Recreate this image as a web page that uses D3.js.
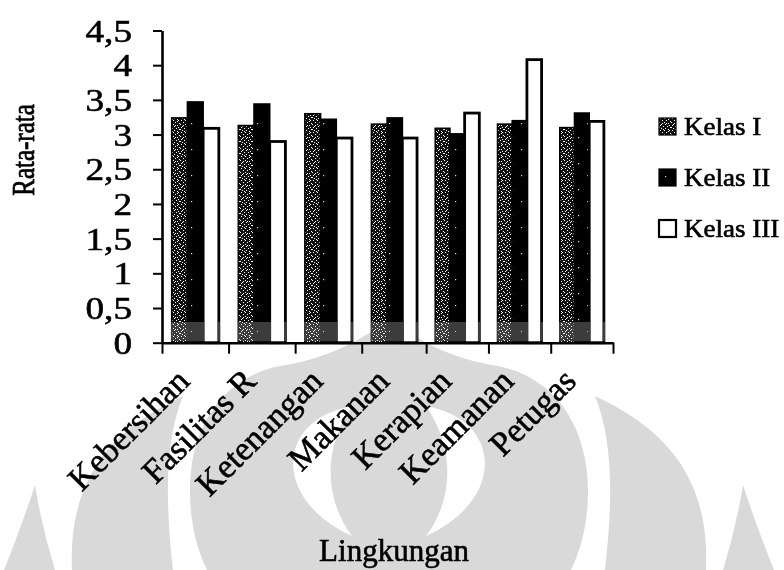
<!DOCTYPE html>
<html>
<head>
<meta charset="utf-8">
<script src="https://cdn.jsdelivr.net/npm/d3@7"></script>
<style>
  html, body { margin: 0; padding: 0; background: #fff; }
  svg { display: block; }
  text { font-family: "Liberation Serif", "Times New Roman", serif; fill: #000; stroke: #000; stroke-width: 0.6px; }
</style>
</head>
<body>
<svg id="chart" width="784" height="570"></svg>
<script>
// ---- data ----
const categories = ["Kebersihan", "Fasilitas R", "Ketenangan", "Makanan", "Kerapian", "Keamanan", "Petugas"];
const seriesNames = ["Kelas I", "Kelas II", "Kelas III"];
const kelas1 = [3.24, 3.13, 3.30, 3.15, 3.09, 3.15, 3.10];
const kelas2 = [3.47, 3.44, 3.22, 3.24, 3.01, 3.20, 3.31];
const kelas3 = [3.09, 2.90, 2.95, 2.95, 3.31, 4.08, 3.19];
const yTickValues = [0, 0.5, 1, 1.5, 2, 2.5, 3, 3.5, 4, 4.5];
const yTickLabels = ["0", "0,5", "1", "1,5", "2", "2,5", "3", "3,5", "4", "4,5"];
const xTitle = "Lingkungan";
const yTitle = "Rata-rata";

const seriesValues = [kelas1, kelas2, kelas3];

const svg = d3.select("#chart");

// ---- fill patterns ----
const defs = svg.append("defs");
const stip = defs.append("pattern").attr("id", "stipple")
  .attr("patternUnits", "userSpaceOnUse").attr("width", 12).attr("height", 12);
stip.append("rect").attr("width", 12).attr("height", 12).attr("fill", "#111");
[[1,0],[5,0],[9,1],[3,2],[7,2],[11,3],[0,4],[5,4],[9,5],[2,6],[6,6],[10,7],[4,8],[8,8],
 [0,9],[11,9],[2,10],[6,10],[9,11],[4,11],[7,5],[1,7],[10,0],[3,5]]
  .forEach(([px, py]) => stip.append("rect").attr("x", px).attr("y", py)
    .attr("width", 1).attr("height", 1).attr("fill", "#fff"));

const solid = defs.append("pattern").attr("id", "solidDots")
  .attr("patternUnits", "userSpaceOnUse").attr("width", 22).attr("height", 26);
solid.append("rect").attr("width", 22).attr("height", 26).attr("fill", "#000");
[[6,7],[15,19]].forEach(([px, py]) => solid.append("rect").attr("x", px).attr("y", py)
  .attr("width", 1.2).attr("height", 1.2).attr("fill", "#ddd"));

const fills = ["url(#stipple)", "url(#solidDots)", "#fff"];

// ---- background emblem ----
const mark = svg.append("g").attr("fill", "#d9d9d9");
[
  "M35,485 Q22,525 4,570 L55,570 Q42,528 35,485Z",
  "M743,485 Q756,525 774,570 L723,570 Q736,528 743,485Z",
  "M183,396 C110,430 68,480 72,570 L173,570 C165,500 165,440 183,396Z",
  "M595,396 C668,430 710,480 706,570 L605,570 C613,500 613,440 595,396Z",
  "M390,319 C355,345 320,360 280,366 C220,378 190,430 190,490 C190,530 200,555 207,570 L571,570 C578,555 588,530 588,490 C588,430 558,378 498,366 C458,360 423,345 390,319Z"
].forEach(d => mark.append("path").attr("d", d));
[
  "M352,406 C275,420 272,500 352,536 C325,500 322,450 352,406Z",
  "M426,406 C503,420 506,500 426,536 C453,500 456,450 426,406Z"
].forEach(d => mark.append("path").attr("d", d).attr("fill", "#fff"));

// ---- scales ----
const x = d3.scaleLinear().domain([0, 3.5, categories.length]).range([162, 395, 613]);
const y = d3.scaleLinear().domain([0, 4.5]).range([342.7, 30.5]);
const inner = d3.scaleBand().domain(seriesNames).range([0, 1]).paddingInner(0).paddingOuter(0.62);

// ---- bars ----
const bars = [];
categories.forEach((c, i) => {
  seriesNames.forEach((s, j) => bars.push({ i, j, s, v: seriesValues[j][i] }));
});
svg.append("g").selectAll("rect").data(bars).join("rect")
  .attr("x", d => x(d.i + inner(d.s)))
  .attr("width", d => x(d.i + inner(d.s) + inner.bandwidth()) - x(d.i + inner(d.s)))
  .attr("y", d => y(d.v))
  .attr("height", d => y(0) - y(d.v))
  .attr("fill", d => fills[d.j])
  .attr("stroke", "#000")
  .attr("stroke-width", d => d.j === 2 ? 2.8 : 1.6);

// light band across the lower part of the bars
svg.append("rect")
  .attr("x", x(0)).attr("width", x(categories.length) - x(0))
  .attr("y", 322).attr("height", y(0) - 1.5 - 322)
  .attr("fill", "#3c3c3c")
  .style("mix-blend-mode", "lighten");

// ---- y axis ----
const yAxis = svg.append("g").attr("transform", `translate(${x(0)},0)`)
  .call(d3.axisLeft(y).tickValues(yTickValues)
    .tickFormat((d, k) => yTickLabels[k]).tickSizeInner(9).tickSizeOuter(0).tickPadding(0));
yAxis.select(".domain").attr("stroke-width", 2.6);
yAxis.selectAll(".tick line").attr("stroke-width", 2);
yAxis.selectAll(".tick text")
  .attr("font-size", 31).attr("font-family", null)
  .attr("x", -30 / 1.2).attr("dy", "0.34em")
  .attr("transform", "scale(1.2,1)");

// ---- x axis ----
const xAxis = svg.append("g").attr("transform", `translate(0,${y(0)})`)
  .call(d3.axisBottom(x).tickValues(d3.range(categories.length + 1))
    .tickFormat("").tickSizeInner(11).tickSizeOuter(0));
xAxis.select(".domain").attr("stroke-width", 2.6);
xAxis.selectAll(".tick line").attr("stroke-width", 2);

svg.append("g").selectAll("text").data(categories).join("text")
  .attr("transform", (d, i) => `translate(${x(i + 0.5) - 4},383) rotate(-45)`)
  .attr("text-anchor", "end")
  .attr("font-size", 34)
  .text(d => d);

// ---- titles ----
svg.append("text")
  .attr("x", 394).attr("y", 561)
  .attr("text-anchor", "middle")
  .attr("font-size", 31)
  .text(xTitle);

svg.append("text")
  .attr("transform", "translate(34,150) scale(1.25,1) rotate(-90)")
  .attr("text-anchor", "middle")
  .attr("font-size", 25)
  .text(yTitle);

// ---- legend ----
const legend = svg.append("g").selectAll("g").data(seriesNames).join("g")
  .attr("transform", (d, k) => `translate(659,${118 + k * 51})`);
legend.append("rect")
  .attr("width", 17).attr("height", 17)
  .attr("fill", (d, k) => fills[k])
  .attr("stroke", "#000")
  .attr("stroke-width", (d, k) => k === 2 ? 2.2 : 1.2);
legend.append("text")
  .attr("transform", "translate(25,17) scale(1.08,1)")
  .attr("font-size", 25)
  .text(d => d);
</script>
</body>
</html>
